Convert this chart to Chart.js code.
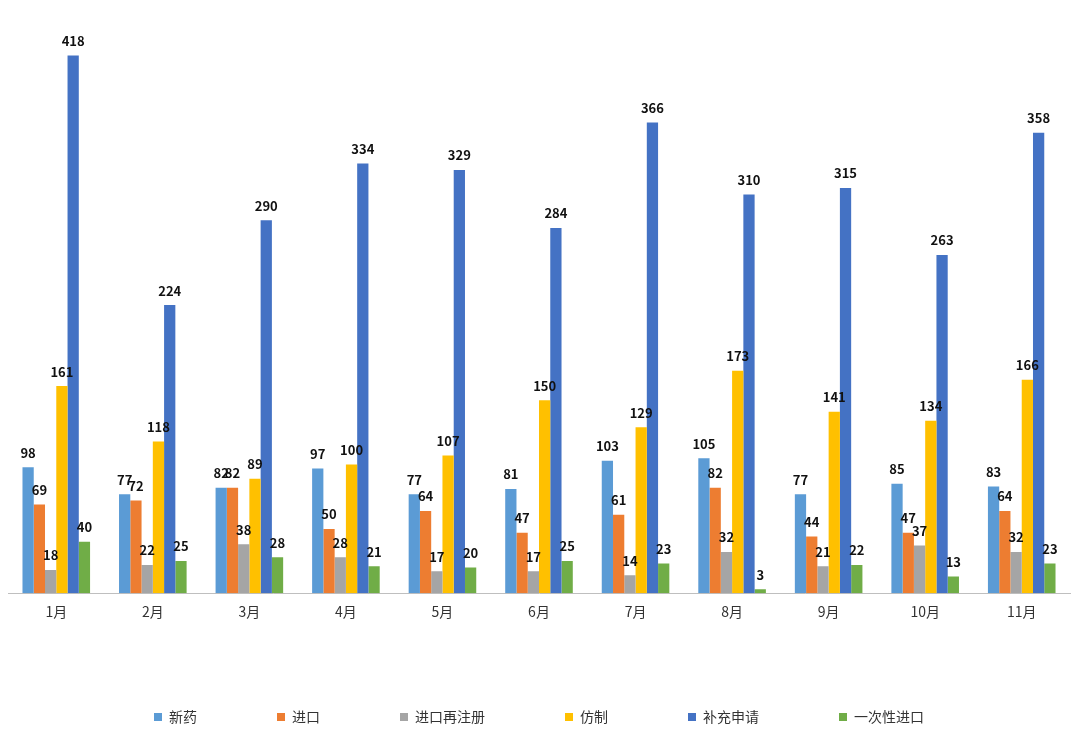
<!DOCTYPE html>
<html><head><meta charset="utf-8">
<script src="https://cdn.jsdelivr.net/npm/chart.js@4"></script>
<style>html,body{margin:0;padding:0;background:#fff}#w{width:1080px;height:748px}</style>
</head><body><div id="w"><canvas id="c"></canvas></div>
<script>
const categories=['1月','2月','3月','4月','5月','6月','7月','8月','9月','10月','11月'];
const xinyao=[98,77,82,97,77,81,103,105,77,85,83];
const jinkou=[69,72,82,50,64,47,61,82,44,47,64];
const zaizhuce=[18,22,38,28,17,17,14,32,21,37,32];
const fangzhi=[161,118,89,100,107,150,129,173,141,134,166];
const buchong=[418,224,290,334,329,284,366,310,315,263,358];
const yicixing=[40,25,28,21,20,25,23,3,22,13,23];
const names=['新药','进口','进口再注册','仿制','补充申请','一次性进口'];
const colors=['#5B9BD5','#ED7D31','#A5A5A5','#FFC000','#4472C4','#70AD47'];
const series=[xinyao,jinkou,zaizhuce,fangzhi,buchong,yicixing];
const font="'Noto Sans CJK SC','Noto Sans',sans-serif";
const labelPlugin={id:'lbl',afterDatasetsDraw(ch){const ctx=ch.ctx;ctx.save();ctx.font="bold 13px "+font;ctx.fillStyle='#111';ctx.textAlign='center';ctx.textBaseline='bottom';
ch.data.datasets.forEach((d,i)=>{ch.getDatasetMeta(i).data.forEach((b,j)=>{ctx.fillText(d.data[j],b.x,b.y-8);});});ctx.restore();}};
new Chart(document.getElementById('c'),{type:'bar',
data:{labels:categories,datasets:series.map((s,i)=>({label:names[i],data:s,backgroundColor:colors[i],categoryPercentage:0.7,barPercentage:1}))},
plugins:[labelPlugin],
options:{responsive:true,maintainAspectRatio:false,animation:false,
layout:{padding:{left:8,right:10,top:53,bottom:14}},
plugins:{legend:{position:'bottom',labels:{boxWidth:8,boxHeight:8,padding:80,color:'#333',font:{size:14,family:font}}},tooltip:{enabled:false}},
scales:{x:{grid:{display:false,drawTicks:false},border:{color:'#bfbfbf'},ticks:{color:'#333',padding:10,font:{size:14,family:font}}},
y:{display:false,min:0,max:420}}}});
</script></body></html>
